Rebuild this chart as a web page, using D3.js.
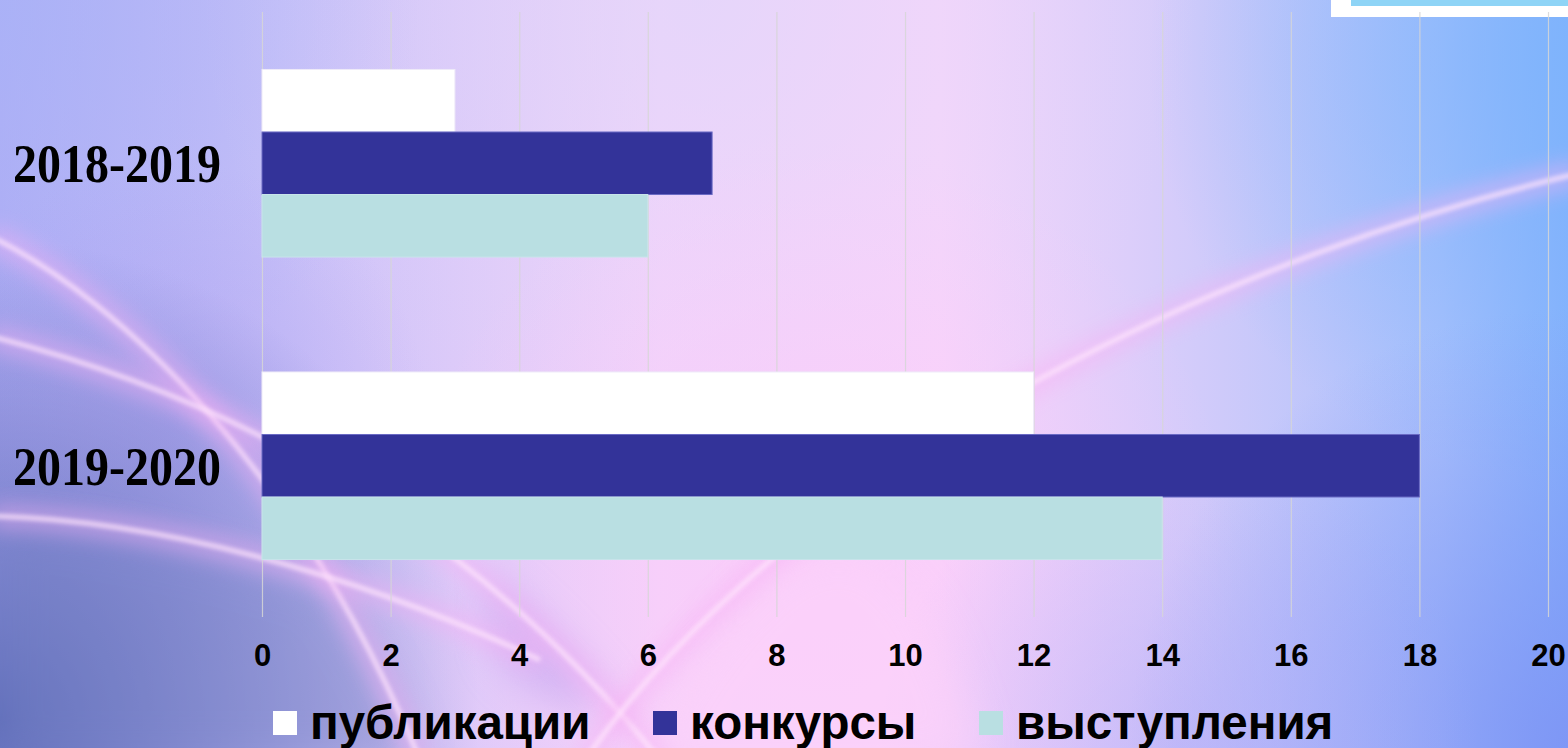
<!DOCTYPE html>
<html><head><meta charset="utf-8">
<script src="https://cdn.jsdelivr.net/npm/d3@7"></script>
<style>html,body{margin:0;padding:0;overflow:hidden;background:#c8c0f8}</style>
</head><body><svg id="c" width="1568" height="748"></svg>
<script>
const categories = ["2018-2019", "2019-2020"];
const seriesNames = ["публикации", "конкурсы", "выступления"];
const publications = [3, 12];
const contests = [7, 18];
const performances = [6, 14];
const xTicks = [0, 2, 4, 6, 8, 10, 12, 14, 16, 18, 20];
const colors = ["#ffffff", "#333399", "#b9dfe2"];

const W = 1568, H = 748;
const svg = d3.select("#c");
const defs = svg.append("defs");

// ---------- decorative background ----------
const lg = defs.append("linearGradient").attr("id","bgH").attr("x1",0).attr("x2",1).attr("y1",0).attr("y2",0);
[[0,"#b0acf4"],[0.18,"#c8c0f8"],[0.42,"#f4d4fa"],[0.6,"#f8d6fa"],[0.78,"#cecafa"],[0.92,"#a8c0fc"],[1,"#86b2fc"]]
  .forEach(s=>lg.append("stop").attr("offset",s[0]).attr("stop-color",s[1]));
const rg = (id,cx,cy,r,col,op)=>{
  const g=defs.append("radialGradient").attr("id",id).attr("gradientUnits","userSpaceOnUse")
    .attr("cx",cx).attr("cy",cy).attr("r",r);
  g.append("stop").attr("offset",0).attr("stop-color",col).attr("stop-opacity",op);
  g.append("stop").attr("offset",1).attr("stop-color",col).attr("stop-opacity",0);
};
rg("rBL",0,720,480,"#5868b4",0.9);
rg("rTL",0,0,420,"#a8b4f8",0.7);
rg("rTop",700,0,500,"#dcd6fa",0.6);
rg("rPink",820,560,420,"#fcc6fa",0.6);
rg("rTR",1568,60,420,"#7cb4fc",0.75);
rg("rBR",1568,748,440,"#7c90f4",0.8);
rg("rBC",1180,748,300,"#b0a8f8",0.5);
rg("rMid",170,420,260,"#a89cf0",0.5);
const mkBlur=(id,s)=>defs.append("filter").attr("id",id).attr("x","-20%").attr("y","-20%").attr("width","140%").attr("height","140%")
  .append("feGaussianBlur").attr("stdDeviation",s);
mkBlur("b2",2); mkBlur("b10",10); mkBlur("b20",20);

const bg = svg.append("g");
bg.append("rect").attr("width",W).attr("height",H).attr("fill","url(#bgH)");
["rTop","rTL","rMid","rBL","rPink","rTR","rBR","rBC"].forEach(id=>bg.append("rect").attr("width",W).attr("height",H).attr("fill",`url(#${id})`));
// soft light regions
bg.append("path").attr("d","M640,760 C700,640 760,580 800,560 C880,520 940,600 980,760 Z").attr("fill","#fcd2fa").attr("opacity",0.7).attr("filter","url(#b20)");
bg.append("path").attr("d","M480,570 C520,600 580,660 610,700 C580,720 540,700 500,660 Z").attr("fill","#b898ec").attr("opacity",0.5).attr("filter","url(#b20)");
bg.append("path").attr("d","M0,520 C120,530 250,560 330,590 C380,660 400,700 420,760 L0,760 Z").attr("fill","#7480c4").attr("opacity",0.35).attr("filter","url(#b20)");

const arcs = [
  "M-10,236 C120,300 300,470 420,760",
  "M-10,336 C200,390 450,500 660,760",
  "M-10,516 C150,520 350,570 540,660",
  "M1580,173 C1250,250 800,450 585,760"
];
arcs.forEach(d=>{
  bg.append("path").attr("d",d).attr("fill","none").attr("stroke","#f6b0f4").attr("stroke-width",26).attr("opacity",0.45).attr("filter","url(#b10)");
  bg.append("path").attr("d",d).attr("fill","none").attr("stroke","#ffe6fd").attr("stroke-width",5).attr("opacity",0.75).attr("filter","url(#b2)");
});

// top-right box
svg.append("rect").attr("x",1331).attr("y",-2).attr("width",240).attr("height",19).attr("fill","#ffffff");
svg.append("rect").attr("x",1351).attr("y",-2).attr("width",220).attr("height",8).attr("fill","#8ed4f6");

// ---------- scales ----------
const x = d3.scaleLinear().domain([0,20]).range([262,1548]);
const y = d3.scaleBand().domain(categories).range([12,617]).paddingInner(0.38).paddingOuter(0.19);
const ySub = d3.scaleBand().domain(seriesNames).range([0,y.bandwidth()]);

// gridlines
const grid = d3.axisBottom(x).tickValues(xTicks).tickSize(-(617-12)).tickFormat("");
const gg = svg.append("g").attr("transform","translate(0,617)").call(grid);
gg.select(".domain").remove();
gg.selectAll("line").attr("stroke","#d6d6d6").attr("stroke-opacity",0.85).attr("stroke-width",1.2);

// bars
const series = [publications, contests, performances];
const rows = [];
categories.forEach((c,ci)=>seriesNames.forEach((s,si)=>rows.push({c, s, si, v: series[si][ci]})));
const borders = ["#eeeaf8","#6a6ac4","#c8e4ea"];
svg.append("g").selectAll("rect").data(rows).join("rect")
  .attr("x",x(0)).attr("y",d=>y(d.c)+ySub(d.s))
  .attr("width",d=>x(d.v)-x(0)).attr("height",ySub.bandwidth())
  .attr("fill",d=>colors[d.si]).attr("stroke",d=>borders[d.si]).attr("stroke-width",1);

// x axis labels
const xa = d3.axisBottom(x).tickValues(xTicks).tickSize(0).tickPadding(0);
const xg = svg.append("g").attr("transform","translate(0,666)").call(xa);
xg.select(".domain").remove();
xg.selectAll("text").attr("dy",0).attr("y",0).attr("fill","#000")
  .style("font-family","'Liberation Sans', Arial, sans-serif").style("font-weight","bold").style("font-size","31px");

// category labels
const ya = d3.axisLeft(y).tickSize(0).tickPadding(0);
const yg = svg.append("g").attr("transform","translate(221,0)").call(ya);
yg.select(".domain").remove();
yg.selectAll(".tick text").attr("x",0).attr("dy",0)
  .attr("transform","translate(0,19) scale(1,1.15)")
  .attr("fill","#000")
  .style("font-family","'Liberation Serif', 'Times New Roman', serif").style("font-weight","bold").style("font-size","48px");

// legend
const legX = [273, 653, 979];
const lg2 = svg.append("g");
seriesNames.forEach((s,i)=>{
  lg2.append("rect").attr("x",legX[i]).attr("y",711).attr("width",24).attr("height",24).attr("fill",colors[i]);
  lg2.append("text").attr("x",legX[i]+37).attr("y",739).text(s).attr("fill","#000")
    .style("font-family","'Liberation Sans', Arial, sans-serif").style("font-weight","bold").style("font-size","47.5px");
});
</script></body></html>
